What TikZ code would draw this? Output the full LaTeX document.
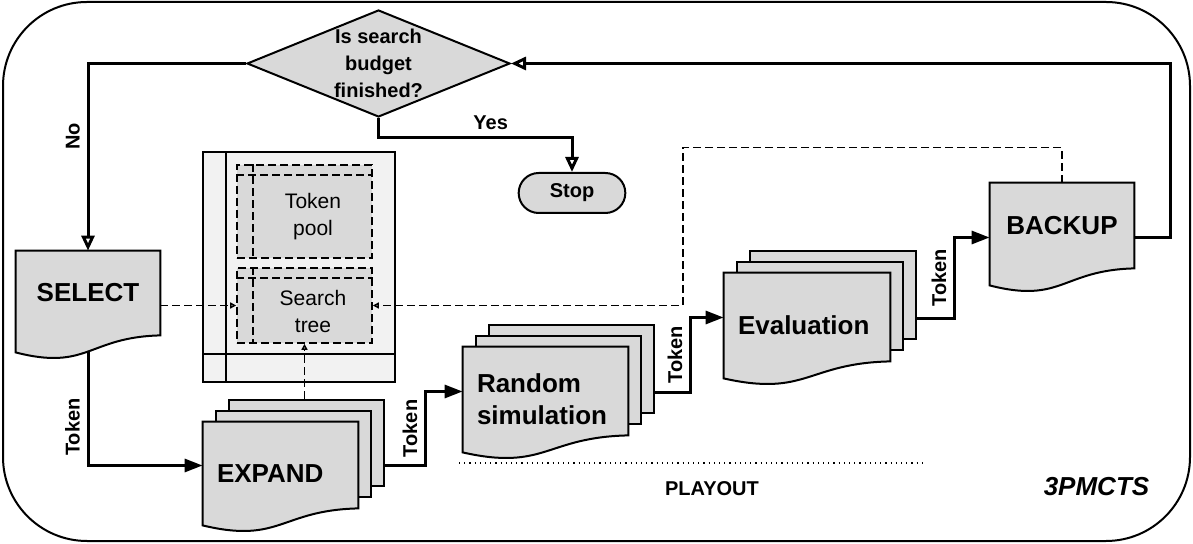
\documentclass[tikz,border=0pt]{standalone}
\usepackage{fontspec}
\setmainfont{Liberation Sans}
\usetikzlibrary{shapes.geometric,shapes.misc,arrows.meta,fit,backgrounds}

\tikzset{
  sheet/.style={fill=gray!30, draw=black, line width=1pt},
  docnode/.style={rectangle, inner sep=0pt, font=\fontsize{13}{16}\selectfont\bfseries},
  stackfront/.style={docnode, align=left, inner xsep=7pt},
  backsheet/.style={sheet, rectangle, inner sep=0pt},
  decision/.style={diamond, aspect=2.46, inner sep=0pt, fill=gray!30, draw, line width=1pt,
    minimum width=131.5pt, minimum height=53.5pt, align=center, font=\fontsize{10}{13.5}\selectfont\bfseries},
  terminal/.style={rounded rectangle, fill=gray!30, draw, line width=1pt, minimum width=60pt,
    minimum height=20pt, font=\fontsize{10}{12}\selectfont\bfseries},
  storage/.style={rectangle, fill=gray!10, draw, line width=0.8pt, minimum width=96pt, minimum height=115pt},
  cell/.style={rectangle, fill=gray!30, draw, line width=0.8pt, dash pattern=on 4pt off 2pt, minimum width=67.5pt},
  celltext/.style={align=center, font=\fontsize{10.5}{13.5}\selectfont},
  lbl/.style={font=\fontsize{10}{12}\selectfont\bfseries},
  tok/.style={lbl, rotate=90, anchor=south},
  flow/.style={line width=1.5pt, -{Triangle[length=9pt,width=6.5pt]}},
  ctrl/.style={line width=1.5pt, -{Triangle[open,length=7.5pt,width=6.5pt]}},
  link/.style={line width=0.8pt, dash pattern=on 4pt off 2pt, -{Triangle[open,length=3pt,width=3pt]}},
}

% outline of a sheet with a wavy lower edge
\newcommand{\docpath}[2]{%
  \path[sheet] (#1.north west) -- (#1.north east) -- ([yshift=#2]#1.south east)
    .. controls ([yshift=#2-0.85pt]#1.south) and ([yshift=#2-17.85pt]#1.south)
    .. ([yshift=#2-8.5pt]#1.south west) -- cycle;}
% the two sheets behind a stack
\newcommand{\backsheets}[1]{%
  \node[backsheet, fit={([shift={(13pt,11pt)}]#1.north west) ([shift={(13pt,19.5pt)}]#1.south east)}] (#13) {};
  \node[backsheet, fit={([shift={(6.5pt,5.5pt)}]#1.north west) ([shift={(6.5pt,14pt)}]#1.south east)}] (#12) {};}

\begin{document}
\begin{tikzpicture}[x=0.5pt, y=-0.5pt]
\useasboundingbox (0,0) rectangle (1193,544);
\draw[line width=1pt, rounded corners=42pt] (3,2) rectangle (1190,541);

% steps
\node[decision] (dec) at (378.5,63.5) {Is search\\budget\\finished?};
\node[terminal] (stop) at (572,193) {Stop};
\node[docnode, minimum width=72pt, minimum height=42pt] (select) at (88,293) {SELECT};
\node[docnode, minimum width=72pt, minimum height=42.5pt] (backup) at (1062,225.5) {BACKUP};
\node[stackfront, minimum width=77.5pt, minimum height=51.5pt, text width=63.5pt] (expand) at (280.5,473.5) {EXPAND};
\node[stackfront, minimum width=82.5pt, minimum height=52.5pt, text width=68.5pt] (random) at (545.5,399.5) {Random\\simulation};
\node[stackfront, minimum width=83pt, minimum height=52.5pt, text width=69pt] (eval) at (807,325.5) {Evaluation};

\begin{scope}[on background layer]
  \docpath{select}{0pt}
  \docpath{backup}{0pt}
  \backsheets{expand} \docpath{expand}{8.5pt}
  \backsheets{random} \docpath{random}{8.5pt}
  \backsheets{eval} \docpath{eval}{8.5pt}
\end{scope}

% shared storage
\node[storage] (store) at (299,267) {};
\draw[line width=0.8pt] ([xshift=12pt]store.north west) -- ([xshift=12pt]store.south west)
  ([yshift=14.5pt]store.south west) -- ([yshift=14.5pt]store.south east);
\node[cell, minimum height=46.5pt] (pool) at (304.5,211.5) {};
\node[cell, minimum height=37.5pt] (tree) at (304.5,305.5) {};
\foreach \c in {pool,tree}
  \draw[line width=0.8pt, dash pattern=on 4pt off 2pt] ([xshift=8.5pt]\c.north west) -- ([xshift=8.5pt]\c.south west)
    ([yshift=-5.5pt]\c.north west) -- ([yshift=-5.5pt]\c.north east);
\node[celltext] (pooltext) at ([shift={(4.25pt,-2.75pt)}]pool.center) {Token\\pool};
\node[celltext] (treetext) at ([shift={(4.25pt,-2.75pt)}]tree.center) {Search\\tree};

% control flow
\draw[ctrl] (dec.west) -| node[tok, pos=0.695] {No} (select.north);
\draw[ctrl] (dec.south) -- ++(0,20) -| node[lbl, pos=0.29, above] {Yes} (stop.north);
\draw[flow] ([yshift=-8.5pt]select.south) |- node[tok, pos=0.33] {Token} ([yshift=4pt]expand.west);
\draw[flow] ([yshift=11pt]expand3.south east) -- ++(40,0) |- node[tok, pos=0.25] {Token} ([yshift=4pt]random.west);
\draw[flow] ([yshift=11pt]random3.south east) -- ++(35,0) |- node[tok, pos=0.25] {Token} ([yshift=4pt]eval.west);
\draw[flow] ([yshift=11pt]eval3.south east) -- ++(37,0) |- node[tok, pos=0.25] {Token} ([yshift=-6pt]backup.west);
\draw[ctrl] ([yshift=-6pt]backup.east) -- ++(36,0) |- (dec.east);

% tree access
\draw[link] (select.east |- tree.west) -- (tree.west);
\draw[link] (backup.north) -- ++(0,-35) -| ([xshift=155pt]tree.east) -- (tree.east);
\draw[link] (tree.south |- expand3.north) -- (tree.south);

% playout phase
\draw[dotted, line width=0.6pt] (459,463) -- (925,463);
\node[lbl] (playout) at (712,489) {PLAYOUT};
\node[font=\fontsize{13}{16}\selectfont\bfseries\itshape] (name) at (1096.5,487) {3PMCTS};
\end{tikzpicture}
\end{document}
